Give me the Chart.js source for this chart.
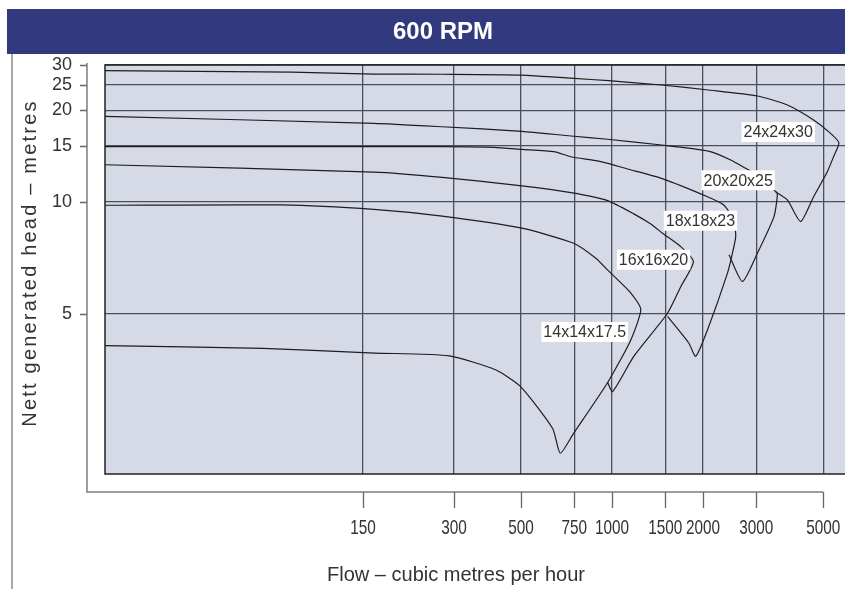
<!DOCTYPE html>
<html><head><meta charset="utf-8">
<script src="https://cdn.jsdelivr.net/npm/chart.js@4.4.1/dist/chart.umd.min.js"></script>
<style>html,body{margin:0;padding:0;background:#fff;}canvas{display:block;}</style>
</head><body>
<canvas id="c" width="845" height="589"></canvas>
<script>
// ---------- data ----------
const chartTitle = '600 RPM';
const xTitle = 'Flow – cubic metres per hour';
const yTitle = 'Nett generated head – metres';
const xTicks = [150, 300, 500, 750, 1000, 1500, 2000, 3000, 5000];
const yTicks = [5, 10, 15, 20, 25, 30];
const sizes = ['14x14x17.5', '16x16x20', '18x18x23', '20x20x25', '24x24x30'];

// each path: top curve left->right, nose, down to cusp, then lower branch back left
const flow14 = [21, 81, 163, 274, 503, 747, 884, 966, 1154, 1245, 1154, 966, 747, 674, 636, 499, 413, 289, 164, 70, 21];
const head14 = [9.75, 9.77, 9.48, 9.06, 8.37, 7.60, 6.92, 6.45, 5.63, 5.13, 4.34, 3.48, 2.73, 2.49, 2.79, 3.41, 3.71, 3.99, 4.05, 4.15, 4.21];

const flow16 = [21, 163, 274, 503, 731, 966, 1180, 1344, 1469, 1688, 1859, 1688, 1526, 1180, 1004, 966];
const head16 = [13.0, 12.32, 11.86, 11.15, 10.63, 10.06, 9.2, 8.6, 8.10, 7.44, 6.78, 5.84, 5.02, 3.98, 3.33, 3.49];

const flow18 = [21, 163, 274, 407, 503, 642, 731, 918, 1125, 1465, 2069, 2342, 2527, 2566, 2502, 2408, 2069, 1892, 1794, 1526];
const head18 = [14.9, 14.9, 14.9, 14.83, 14.6, 14.34, 13.8, 13.3, 12.6, 11.75, 10.34, 9.77, 8.84, 7.93, 7.14, 6.32, 4.58, 3.98, 4.27, 4.93];

const flow20 = [21, 163, 274, 503, 731, 966, 1461, 2084, 2470, 2768, 3026, 3426, 3524, 3434, 3026, 2700, 2438];
const head20 = [19.0, 17.94, 17.45, 16.82, 16.20, 15.79, 15.10, 14.4, 13.47, 12.66, 12.06, 10.84, 10.59, 9.03, 7.14, 6.02, 7.07];

const flow24 = [21, 87, 163, 274, 499, 747, 974, 1461, 2084, 3026, 3803, 4645, 5286, 5631, 5409, 5156, 4645, 4208, 3803, 3478];
const head24 = [28.42, 28.07, 27.55, 27.50, 27.30, 26.48, 25.91, 24.92, 23.83, 22.60, 20.91, 18.44, 16.55, 15.37, 13.81, 12.35, 10.34, 8.74, 10.11, 10.69];

// label anchor points (flow, head) for each size
const labelFlow = [812, 1372, 1961, 2615, 3546];
const labelHead = [4.53, 6.86, 8.79, 11.61, 16.72];

// ---------- custom power scale (head axis of the original is compressed toward the top) ----------
class PowerScale extends Chart.LinearScale {
  configure() {
    super.configure();
    const p = this.options.exponent;
    this._tA = Math.pow(this.min, p);
    this._tB = Math.pow(this.max, p);
  }
  getPixelForValue(v) {
    if (v === null || v === undefined || isNaN(v)) return NaN;
    const p = this.options.exponent;
    const t = Math.pow(v, p);
    return this.getPixelForDecimal((t - this._tA) / (this._tB - this._tA));
  }
  getValueForPixel(px) {
    const p = this.options.exponent;
    const d = this.getDecimalForPixel(px);
    return Math.pow(this._tA + d * (this._tB - this._tA), 1 / p);
  }
}
PowerScale.id = 'power';
PowerScale.defaults = {};
Chart.register(PowerScale);

const flows = [flow14, flow16, flow18, flow20, flow24];
const heads = [head14, head16, head18, head20, head24];

const TEXT = '#333333';
const GRID = '#4c4f5c';

const deco = {
  id: 'deco',
  beforeDraw(chart) {
    const {ctx, chartArea: a} = chart;
    ctx.save();
    ctx.fillStyle = '#ffffff';
    ctx.fillRect(0, 0, chart.width, chart.height);
    // title bar
    ctx.fillStyle = '#313a7e';
    ctx.fillRect(7, 9, chart.width - 7, 45);
    ctx.fillStyle = '#ffffff';
    ctx.font = 'bold 24px "Liberation Sans", Arial, sans-serif';
    ctx.textAlign = 'center';
    ctx.textBaseline = 'middle';
    ctx.fillText(chartTitle, 443, 32);
    // outer left rule
    ctx.strokeStyle = '#8c8c8c';
    ctx.lineWidth = 1.5;
    ctx.beginPath(); ctx.moveTo(12, 54); ctx.lineTo(12, chart.height); ctx.stroke();
    // plot background
    ctx.fillStyle = '#d6d9e6';
    ctx.fillRect(a.left, a.top, a.right - a.left, a.bottom - a.top);
    ctx.restore();
  },
  beforeDatasetsDraw(chart) {
    const {ctx, chartArea: a, scales} = chart;
    const xs = scales.x, ys = scales.y;
    ctx.save();
    // plot border
    ctx.strokeStyle = '#222';
    ctx.lineWidth = 1.5;
    ctx.strokeRect(a.left, a.top, a.right - a.left + 2, a.bottom - a.top);
    // offset axis frame
    const axX = a.left - 18, axY = a.bottom + 18;
    ctx.strokeStyle = '#7d7d7d';
    ctx.lineWidth = 1.5;
    ctx.beginPath();
    ctx.moveTo(axX, ys.getPixelForValue(yTicks[yTicks.length - 1]) - 2);
    ctx.lineTo(axX, axY);
    ctx.lineTo(xs.getPixelForValue(xTicks[xTicks.length - 1]), axY);
    ctx.stroke();
    ctx.strokeStyle = '#666';
    ctx.lineWidth = 1.3;
    ctx.beginPath();
    yTicks.forEach(v => { const p = Math.round(ys.getPixelForValue(v)) + 0.5; ctx.moveTo(axX - 7, p); ctx.lineTo(axX, p); });
    xTicks.forEach(v => { const p = Math.round(xs.getPixelForValue(v)) + 0.5; ctx.moveTo(p, axY); ctx.lineTo(p, axY + 16); });
    ctx.stroke();
    // x tick labels (condensed face as in the original)
    ctx.fillStyle = TEXT;
    ctx.font = '21px "Liberation Sans", Arial, sans-serif';
    ctx.textAlign = 'center';
    ctx.textBaseline = 'middle';
    xTicks.forEach(v => {
      const p = xs.getPixelForValue(v);
      ctx.save();
      ctx.translate(p, axY + 36);
      ctx.scale(0.73, 1);
      ctx.fillText(String(v), 0, 0);
      ctx.restore();
    });
    ctx.restore();
  },
  afterDatasetsDraw(chart) {
    const {ctx, scales} = chart;
    const xs = scales.x, ys = scales.y;
    ctx.save();
    ctx.font = '16px "Liberation Sans", Arial, sans-serif';
    ctx.textAlign = 'center';
    ctx.textBaseline = 'middle';
    sizes.forEach((s, i) => {
      const px = xs.getPixelForValue(labelFlow[i]);
      const py = ys.getPixelForValue(labelHead[i]);
      const w = ctx.measureText(s).width;
      ctx.fillStyle = '#ffffff';
      ctx.fillRect(px - w / 2 - 2, py - 10, w + 4, 20);
      ctx.fillStyle = TEXT;
      ctx.fillText(s, px, py + 1);
    });
    // axis titles
    ctx.fillStyle = TEXT;
    ctx.font = '20px "Liberation Sans", Arial, sans-serif';
    ctx.fillText(xTitle, 456, 575);
    ctx.save();
    ctx.translate(30, 263);
    ctx.rotate(-Math.PI / 2);
    try { ctx.letterSpacing = '2.2px'; } catch (e) {}
    ctx.fillText(yTitle, 0, 0);
    ctx.restore();
    ctx.restore();
  }
};

new Chart(document.getElementById('c'), {
  type: 'scatter',
  data: {
    datasets: sizes.map((s, i) => ({
      label: s,
      data: flows[i].map((f, j) => ({x: f, y: heads[i][j]})),
      showLine: true,
      borderColor: '#1e1e1e',
      borderWidth: 1.2,
      pointRadius: 0,
      tension: 0.2,
      fill: false
    }))
  },
  options: {
    responsive: false,
    animation: false,
    devicePixelRatio: 1,
    layout: {padding: {top: 65, left: 0, right: 0, bottom: 0}},
    plugins: {legend: {display: false}, tooltip: {enabled: false}, title: {display: false}},
    scales: {
      x: {
        type: 'logarithmic',
        position: 'bottom',
        min: 21, max: 5900,
        bounds: 'data',
        afterBuildTicks: sc => { sc.ticks = xTicks.map(v => ({value: v})); },
        afterFit: sc => { sc.height = 115; sc.paddingLeft = 0; sc.paddingRight = 0; },
        grid: {color: GRID, lineWidth: 1.3, drawTicks: false},
        border: {display: false},
        ticks: {display: false, autoSkip: false, maxRotation: 0, minRotation: 0, callback: v => String(v)}
      },
      y: {
        type: 'power',
        exponent: -0.3,
        position: 'left',
        min: 2.27, max: 30,
        bounds: 'data',
        afterBuildTicks: sc => { sc.ticks = yTicks.map(v => ({value: v})); },
        afterFit: sc => { sc.width = 105; sc.paddingTop = 0; sc.paddingBottom = 0; },
        grid: {color: GRID, lineWidth: 1.3, drawTicks: false},
        border: {display: false},
        ticks: {
          padding: 33, color: TEXT,
          font: {family: '"Liberation Sans", Arial, sans-serif', size: 18},
          callback: v => String(v)
        }
      }
    }
  },
  plugins: [deco]
});
</script>
</body></html>
